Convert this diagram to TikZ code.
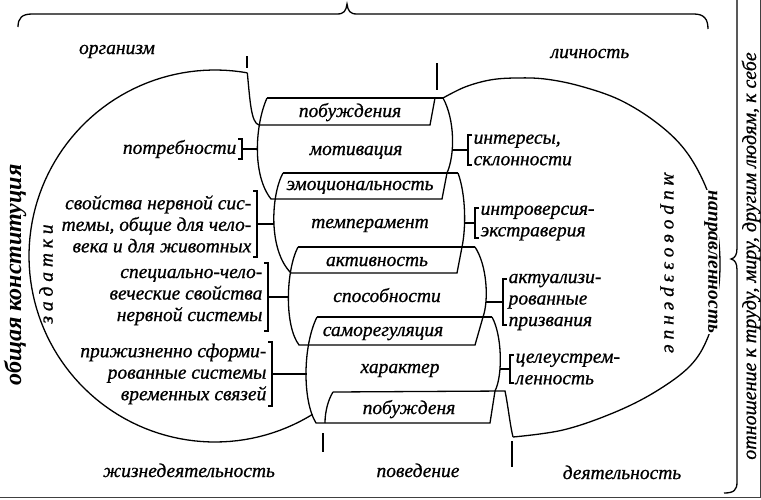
\documentclass[tikz,border=0pt]{standalone}
\usepackage{fontspec}
\setmainfont{Liberation Serif}[ItalicFeatures={FakeBold=0.8}]
\usetikzlibrary{calc}

\newcommand\dfont{\fontsize{19.5}{21.5}\selectfont\itshape}
\newcommand\bigfont{\fontsize{24}{24}\selectfont\bfseries\itshape}

\begin{document}
\begin{tikzpicture}[
    x=1pt, y=-1pt,
    line width=1.3pt,
    every node/.style={font=\dfont},
    txt/.style={inner xsep=5pt, inner ysep=0pt},
    lt/.style={txt, anchor=east, align=right},
    rt/.style={txt, anchor=west, align=left},
    tag/.style={inner sep=0pt, anchor=base}
  ]
  \useasboundingbox (0,0) rectangle (761,499);

  % braces and page edge
  \draw (18,27) .. controls (18,18) and (22,14) .. (32,14) -- (337,14) .. controls (344,14) and (346,11) .. (347,4)
        .. controls (348,11) and (350,14) .. (357,14) -- (694,14) .. controls (704,14) and (708,19) .. (708,29);
  \draw (737,-2) -- (737,248) .. controls (737,255) and (735,258) .. (731,259) .. controls (735,260) and (737,263) .. (737,270)
        -- (737,482) .. controls (737,490) and (734,493) .. (724,493);
  \draw[line width=0.8pt, black!75] (0,497.5) -- (760,497.5) -- (760,0);

  % two circles
  \draw plot[domain=58.4:280, samples=100, variable=\t] ({215+186*cos(\t)},{256+186*sin(\t)});
  \draw plot[smooth, tension=0.6] coordinates {(443,98) (465,87) (490,80) (515,78) (545,79) (580,86) (620,100) (657,123)
        (685,150) (705,185) (716,222) (720,262) (717,300) (708,337) (690,366) (655,392) (613,413) (563,430) (513,437)};

  % column of stacked blocks
  \draw (267,98) -- (443,98);
  \draw (247.3,72.8) .. controls (250,100) and (251,123) .. (259,125) -- (430,125) -- (435,98);
  \draw (267,98) .. controls (255,125) and (252,175) .. (271,199) -- (442,199) -- (447,173);
  \draw (443,98) .. controls (455,120) and (455,155) .. (447,173);
  \draw (283,173) -- (458,173);
  \draw (283,173) .. controls (271,195) and (268,250) .. (291,273) -- (457,273) -- (462,247);
  \draw (458,173) .. controls (466,195) and (466,228) .. (462,247);
  \draw (298,247) -- (475,247);
  \draw (298,247) .. controls (286,270) and (284,325) .. (299,345) -- (475,345) -- (483,317);
  \draw (475,247) .. controls (487,265) and (489,300) .. (483,317);
  \draw (317,317) -- (492,317);
  \draw (317,317) .. controls (303,345) and (302,400) .. (316,423) -- (490,423) -- (495,391);
  \draw (492,317) .. controls (502,335) and (503,375) .. (495,391);
  \draw (333,392) -- (505,391) .. controls (508,405) and (510,425) .. (513,437);
  \draw (333,392) .. controls (328,400) and (325,412) .. (325,423);

  \draw (247,56) -- (247,68);
  \draw (437,63) -- (437,90);
  \draw (323,433) -- (323,452);
  \draw (512,441) -- (512,467);

  \coordinate (m1w) at (258,149);
  \coordinate (m2w) at (274,224);
  \coordinate (m3w) at (289,297);
  \coordinate (m4w) at (307,374);
  \coordinate (m1e) at (452,150);
  \coordinate (m2e) at (465,223);
  \coordinate (m3e) at (486,302);
  \coordinate (m4e) at (500,369);

  \node[tag] (pob) at (350,117) {побуждения};
  \node[tag] (mot) at (356,155) {мотивация};
  \node[tag] (emo) at (360,190) {эмоциональность};
  \node[tag] (temp) at (370,228) {темперамент};
  \node[tag] (akt) at (377,266) {активность};
  \node[tag] (spos) at (387,302) {способности};
  \node[tag] (samo) at (383,336) {саморегуляция};
  \node[tag] (har) at (400,373) {характер};
  \node[tag] (pob2) at (409,414) {побужденя};

  \node[tag] (org) at (117,54) {организм};
  \node[tag] (lich) at (590,58) {личность};
  \node[tag] (zhizn) at (189,477) {жизнедеятельность};
  \node[tag] (pov) at (418,477) {поведение};
  \node[tag] (deyat) at (622,479) {деятельность};

  \node[font=\bigfont, rotate=90, inner sep=0pt] (konst) at (15,275) {общая конституция};
  \node[rotate=90, inner sep=0pt] (zad) at (46,274) {з а д а т к и};
  \node[rotate=-90] (mir) at (667,263) {м и р о в о з з р е н и е};
  \node[rotate=-90, font=\dfont\bfseries, fill=white, inner sep=1pt] (napr) at (711,262) {направленность};
  \node[rotate=90, font=\fontsize{20}{20}\selectfont\itshape] (otn) at (751,256) {отношение к труду, миру, другим людям, к себе};

  % left notes
  \node[lt] (potr) at (242,149) {потребности};
  \node[lt] (svoi) at (257,224) {свойства нервной сис-\\темы, общие для чело-\\века и для животных};
  \node[lt] (spec) at (268,297) {специально-чело-\\веческие свойства\\нервной системы};
  \node[lt] (prizh) at (272,374) {прижизненно сформи-\\рованные системы\\временных связей};
  \draw (potr.east) ++(-4,-10) -- ++(4,0) -- ++(0,20) -- ++(-4,0);
  \draw (svoi.east) ++(-4,-33) -- ++(4,0) -- ++(0,66) -- ++(-4,0);
  \draw (spec.east) ++(-4,-34) -- ++(4,0) -- ++(0,68) -- ++(-4,0);
  \draw (prizh.east) ++(-4,-32) -- ++(4,0) -- ++(0,64) -- ++(-4,0);
  \draw (potr.east) -- (m1w);
  \draw (svoi.east) -- (m2w);
  \draw (spec.east) -- (m3w);
  \draw (prizh.east) -- (m4w);

  % right notes
  \node[rt] (inter) at (468,150) {интересы,\\склонности};
  \node[rt] (intro) at (475,223) {интроверсия-\\экстраверия};
  \node[rt] (aktu) at (503,302) {актуализи-\\рованные\\призвания};
  \node[rt] (tsel) at (510,369) {целеустрем-\\ленность};
  \draw (inter.west) ++(4,-15) -- ++(-4,0) -- ++(0,30) -- ++(4,0);
  \draw (intro.west) ++(4,-15) -- ++(-4,0) -- ++(0,30) -- ++(4,0);
  \draw (aktu.west) ++(4,-23) -- ++(-4,0) -- ++(0,46) -- ++(4,0);
  \draw (tsel.west) ++(4,-14) -- ++(-4,0) -- ++(0,28) -- ++(4,0);
  \draw (m1e) -- (inter.west);
  \draw (m2e) -- (intro.west);
  \draw (m3e) -- (aktu.west);
  \draw (m4e) -- (tsel.west);
\end{tikzpicture}
\end{document}
